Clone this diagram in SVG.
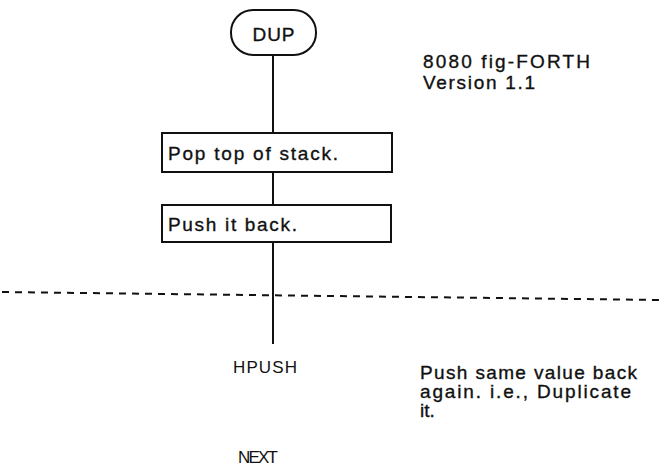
<svg xmlns="http://www.w3.org/2000/svg" width="660" height="468" viewBox="0 0 660 468">
<style>
.box{fill:#fff;stroke:#111;stroke-width:2}
.ln{stroke:#111;stroke-width:2;fill:none}
.dash{stroke:#111;stroke-width:2;stroke-dasharray:7 6;fill:none}
text{font-family:"Liberation Sans",Arial,sans-serif;fill:#111;stroke:#111;stroke-width:0.35}
.t{font-size:19px}
.n{font-size:17px;stroke:none}
.c{font-size:19px}
</style>
<rect width="660" height="468" fill="#fff"/>
<g id="connectors">
<line class="ln" x1="273" y1="55" x2="273" y2="133"/>
<line class="ln" x1="273" y1="172" x2="273" y2="205"/>
<line class="ln" x1="273" y1="242" x2="273" y2="344"/>
<line class="dash" x1="2" y1="292" x2="660" y2="300"/>
</g>
<g id="dup">
<rect class="box" x="231" y="10" width="85" height="45" rx="22"/>
<text class="t" x="273.5" y="41" text-anchor="middle" textLength="42">DUP</text>
</g>
<g id="pop">
<rect class="box" x="162" y="133" width="230" height="39"/>
<text class="t" x="168" y="160" textLength="170">Pop top of stack.</text>
</g>
<g id="push">
<rect class="box" x="162" y="205" width="229" height="37"/>
<text class="t" x="168" y="231" textLength="129">Push it back.</text>
</g>
<g id="hpush">
<text class="n" x="233" y="373" textLength="64">HPUSH</text>
</g>
<g id="next">
<text class="n" x="238" y="463" textLength="40">NEXT</text>
</g>
<g id="title">
<text class="c" x="423" y="68" textLength="167">8080 fig-FORTH</text>
<text class="c" x="423" y="89" textLength="112">Version 1.1</text>
</g>
<g id="note">
<text class="c" x="420" y="379" textLength="217">Push same value back</text>
<text class="c" x="420" y="398" textLength="211">again. i.e., Duplicate</text>
<text class="c" x="420" y="417">it.</text>
</g>
</svg>
